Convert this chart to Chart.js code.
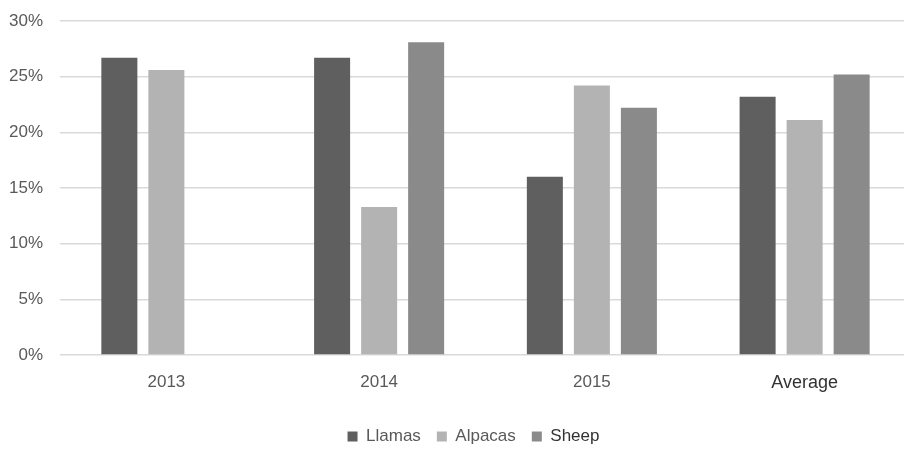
<!DOCTYPE html>
<html>
<head>
<meta charset="utf-8">
<script src="https://cdn.jsdelivr.net/npm/chart.js@4/dist/chart.umd.min.js"></script>
<style>
html,body{margin:0;padding:0;background:#fff;overflow:hidden;width:904px;height:449px;}
#wrap{width:912px;height:449px;position:relative;}
</style>
</head>
<body>
<div id="wrap"><canvas id="c" width="912" height="449"></canvas></div>
<script>
const categories = ["2013", "2014", "2015", "Average"];
const llamas  = [26.7, 26.7, 16.0, 23.2];
const alpacas = [25.6, 13.3, 24.2, 21.1];
const sheep   = [null, 28.1, 22.2, 25.2];
const yTicks  = [0, 5, 10, 15, 20, 25, 30];

const FONT = "'Liberation Sans', 'Open Sans', sans-serif";
const colors = {Llamas: "#5f5f5f", Alpacas: "#b3b3b3", Sheep: "#8a8a8a"};

const shiftLegend = {
  id: "shiftLegend",
  afterLayout(chart) {
    const l = chart.legend;
    if (l) { l.left += 18; l.right += 18; }
  }
};

new Chart(document.getElementById("c"), {
  type: "bar",
  data: {
    labels: categories,
    datasets: [
      {label: "Llamas", data: llamas, backgroundColor: colors.Llamas},
      {label: "Alpacas", data: alpacas, backgroundColor: colors.Alpacas},
      {label: "Sheep", data: sheep, backgroundColor: colors.Sheep}
    ]
  },
  plugins: [shiftLegend],
  options: {
    responsive: false,
    animation: false,
    devicePixelRatio: 1,
    layout: {padding: {top: 21, right: 1, left: 0, bottom: -6}},
    datasets: {bar: {categoryPercentage: 0.663, barPercentage: 0.766}},
    plugins: {
      tooltip: {enabled: false},
      legend: {
        position: "bottom",
        labels: {
          boxWidth: 10, boxHeight: 10, padding: 16,
          font: {family: FONT, size: 17},
          color: "#595959",
          generateLabels(chart) {
            return chart.data.datasets.map((d, i) => ({
              text: d.label,
              fillStyle: d.backgroundColor,
              strokeStyle: d.backgroundColor,
              lineWidth: 0,
              datasetIndex: i,
              fontColor: d.label === "Sheep" ? "#333333" : "#595959"
            }));
          }
        }
      }
    },
    scales: {
      x: {
        grid: {display: false},
        border: {display: false},
        ticks: {
          padding: 9,
          font: (ctx) => ({family: FONT, size: ctx.index === 3 ? 18 : 17}),
          color: (ctx) => ctx.index === 3 ? "#333333" : "#595959"
        },
        afterFit(s) { s.height = 57; s.paddingLeft = 0; s.paddingRight = 0; }
      },
      y: {
        min: 0, max: 30,
        afterBuildTicks(s) { s.ticks = yTicks.map(v => ({value: v})); },
        grid: {color: "#d9d9d9", lineWidth: 1.5, drawTicks: false},
        border: {display: false},
        ticks: {
          padding: 17,
          font: {family: FONT, size: 17},
          color: "#595959",
          callback: (v) => v + "%"
        },
        afterFit(s) { s.width = 60; s.paddingTop = 0; s.paddingBottom = 0; }
      }
    }
  }
});
</script>
</body>
</html>
